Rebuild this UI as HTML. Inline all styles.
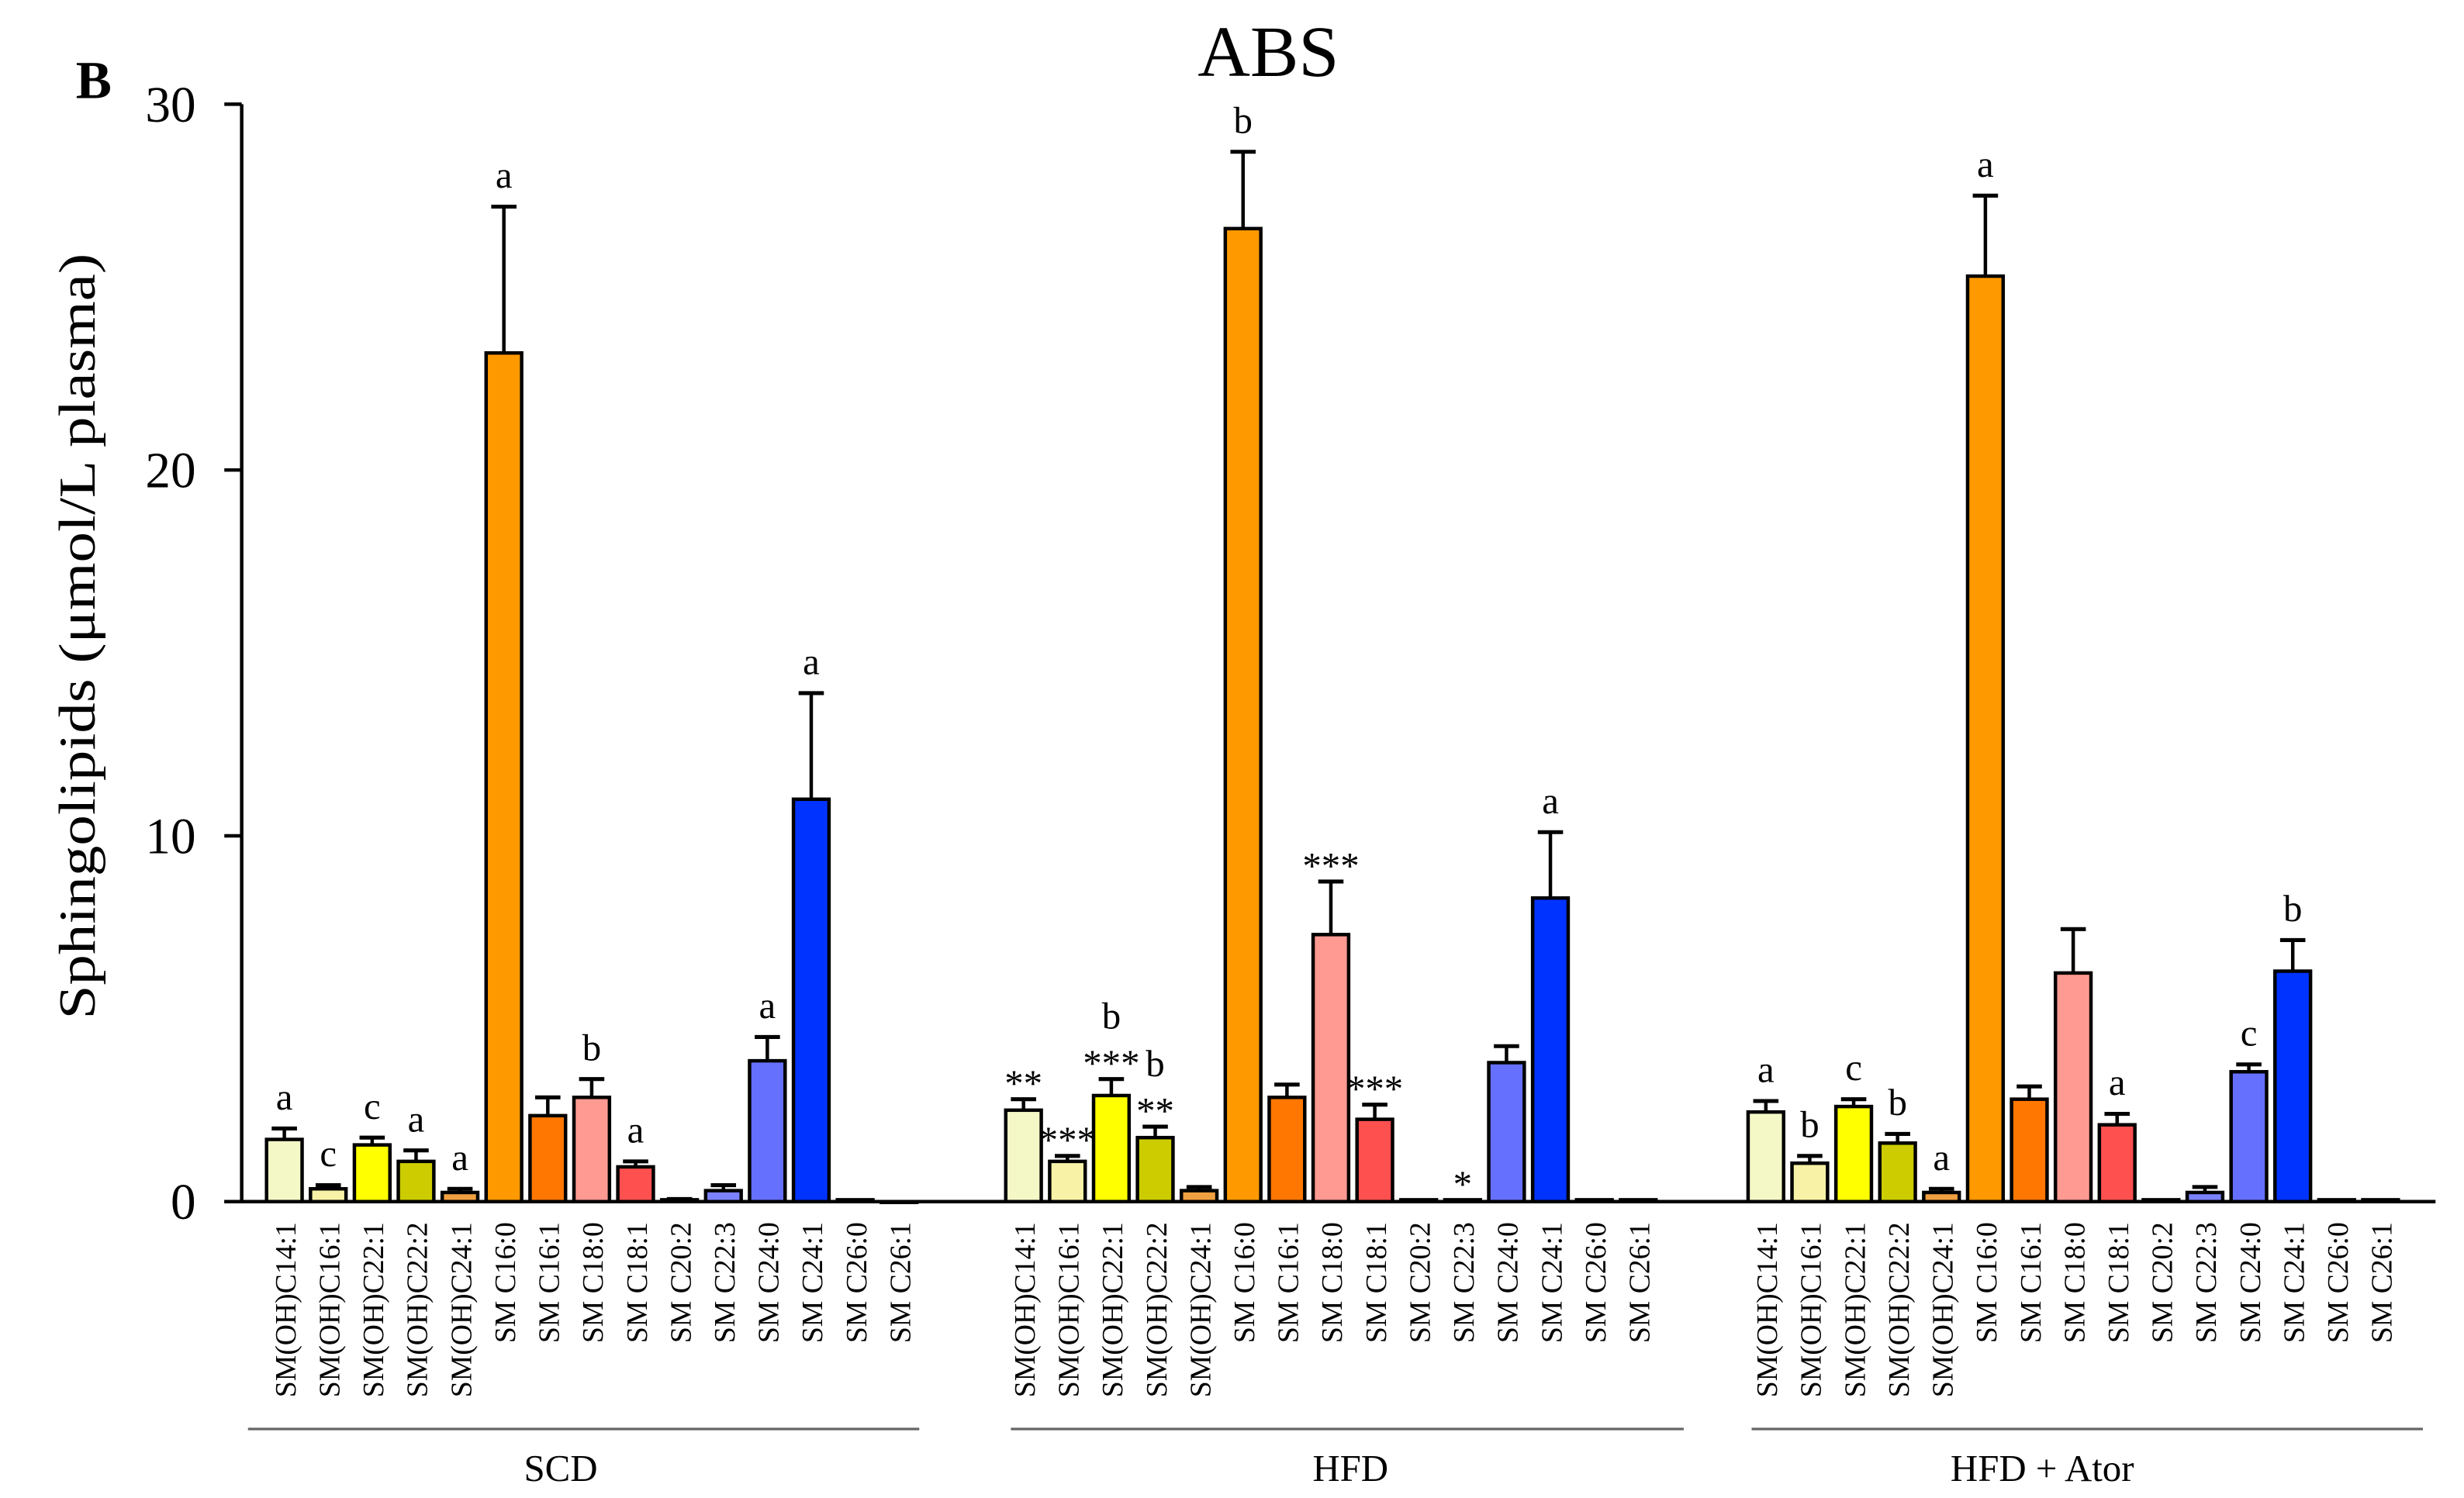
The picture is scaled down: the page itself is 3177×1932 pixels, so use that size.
<!DOCTYPE html>
<html><head><meta charset="utf-8"><style>
html,body{margin:0;padding:0;background:#fff;}
svg{display:block;}
</style></head><body>
<svg id="chart" width="3177" height="1932" viewBox="0 0 1560 948.7" xmlns="http://www.w3.org/2000/svg">
<text x="48" y="62" font-family="Liberation Serif, serif" font-weight="bold" font-size="34">B</text>
<text x="803" y="48" text-anchor="middle" font-family="Liberation Serif, serif" font-size="46">ABS</text>
<text transform="translate(60,403) rotate(-90)" text-anchor="middle" font-family="Liberation Serif, serif" font-size="33" textLength="485" lengthAdjust="spacingAndGlyphs">Sphingolipids (μmol/L plasma)</text>
<g id="plot"></g>
</svg>
<script>
const categories=["SM(OH)C14:1","SM(OH)C16:1","SM(OH)C22:1","SM(OH)C22:2","SM(OH)C24:1","SM C16:0","SM C16:1","SM C18:0","SM C18:1","SM C20:2","SM C22:3","SM C24:0","SM C24:1","SM C26:0","SM C26:1"];
const groups=["SCD","HFD","HFD + Ator"];
const scdValues=[1.7,0.35,1.55,1.1,0.25,23.2,2.35,2.85,0.95,0.05,0.3,3.85,11.0,0.05,0.0];
const scdErrors=[0.3,0.1,0.2,0.3,0.1,4.0,0.5,0.5,0.15,0.02,0.15,0.65,2.9,0,0];
const hfdValues=[2.5,1.1,2.9,1.75,0.3,26.6,2.85,7.3,2.25,0.05,0.05,3.8,8.3,0.05,0.05];
const hfdErrors=[0.3,0.15,0.45,0.3,0.1,2.1,0.35,1.45,0.4,0,0,0.45,1.8,0,0];
const atorValues=[2.45,1.05,2.6,1.6,0.25,25.3,2.8,6.25,2.1,0.05,0.25,3.55,6.3,0.05,0.05];
const atorErrors=[0.3,0.2,0.2,0.25,0.1,2.2,0.35,1.2,0.3,0,0.15,0.2,0.85,0,0];
const scdAnnot=["a","c","c","a","a","a","","b","a","","","a","a","",""];
const hfdAnnot=["**","***","b\n***","b\n**","","b","","***","***","","*","","a","",""];
const atorAnnot=["a","b","c","b","a","a","","","a","","","c","b","",""];
const yTicks=[0,10,20,30];
const colors=["#f4f8c6","#f7f2a6","#ffff00","#cccc00","#f0a040","#ff9900","#ff7700","#ff9a92","#ff5050","#999999","#7b82ff","#6670ff","#0033ff","#888888","#888888"];
const NS="http://www.w3.org/2000/svg";
const plot=document.getElementById('plot');
const y0=761,yTop=66,yMax=30,xAxis=153;
const yScale=v=>y0-(v/yMax)*(y0-yTop);
const groupStart=[180,648,1118],step=27.8,bw=22.5;
const bracketX=[[157,582],[640,1066],[1109,1534]];
const groupLabelX=[355,855,1293];
const xScale=(g,i)=>groupStart[g]+i*step;
function mk(tag,attrs){const e=document.createElementNS(NS,tag);for(const k in attrs)e.setAttribute(k,attrs[k]);plot.appendChild(e);return e;}
let ax=mk('line',{x1:xAxis,y1:yTop,x2:xAxis,y2:y0+1,stroke:'#000','stroke-width':2.2});


ax=mk('line',{x1:142,y1:y0,x2:1542,y2:y0,stroke:'#000','stroke-width':2.2});


yTicks.forEach(t=>{
 const y=yScale(t);
 const l=mk('line',{x1:xAxis-11,y1:y,x2:xAxis,y2:y,stroke:'#000','stroke-width':2.2});
 
 
 const tx=mk('text',{x:124,y:y+11,'text-anchor':'end','font-family':'Liberation Serif, serif','font-size':32});
 tx.textContent=t;
 
 
});
const allVals=[scdValues,hfdValues,atorValues],allErr=[scdErrors,hfdErrors,atorErrors],allAnn=[scdAnnot,hfdAnnot,atorAnnot];
groups.forEach((gname,g)=>{
 categories.forEach((c,i)=>{
  const cx=xScale(g,i),v=allVals[g][i],e=allErr[g][i];
  const top=yScale(v),etop=yScale(v+e);
  if(e>0){
   const el=mk('line',{x1:cx,y1:top,x2:cx,y2:etop,stroke:'#000','stroke-width':2.2});
   
   
   const cap=mk('line',{x1:cx-8,y1:etop,x2:cx+8,y2:etop,stroke:'#000','stroke-width':2.5});
   
   
  }
  const r=mk('rect',{x:cx-bw/2,y:top,width:bw,height:Math.max(y0-top,0.5),fill:colors[i],stroke:'#000','stroke-width':2.2});
  
  
  const lines=allAnn[g][i]?allAnn[g][i].split('\n'):[];
  lines.reverse().forEach((s,k)=>{
   const star=s.indexOf('*')>=0;
   const t=mk('text',{x:cx,y:etop-12-k*20+(star?10:0),'text-anchor':'middle','font-family':'Liberation Serif, serif','font-size':24});
   t.textContent=s;
   
   
  });
  const lb=mk('text',{transform:`translate(${cx+7},774) rotate(-90)`,'text-anchor':'end','font-family':'Liberation Serif, serif','font-size':18.5});
  lb.textContent=c;
  
  
 });
 const gl=mk('line',{x1:bracketX[g][0],y1:905,x2:bracketX[g][1],y2:905,stroke:'#666','stroke-width':1.6});
 
 
 const gt=mk('text',{x:groupLabelX[g],y:938,'text-anchor':'middle','font-family':'Liberation Serif, serif','font-size':24});
 gt.textContent=gname;
 
 
});
</script>
</body></html>
